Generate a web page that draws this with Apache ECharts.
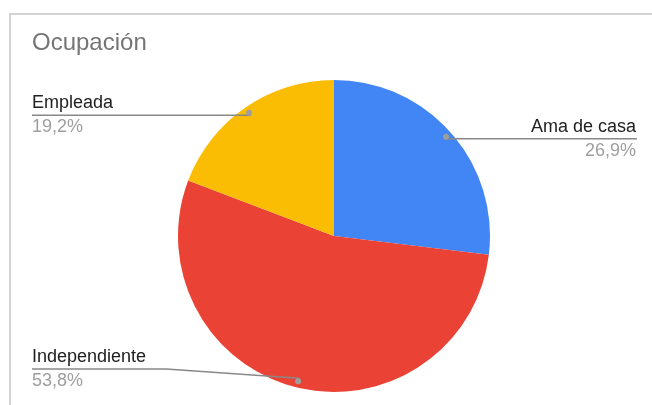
<!DOCTYPE html>
<html>
<head>
<meta charset="utf-8">
<script src="https://cdn.jsdelivr.net/npm/echarts@6/dist/echarts.min.js"></script>
<style>
  html, body { margin: 0; padding: 0; background: #fff; }
  #chart { width: 652px; height: 405px; }
</style>
</head>
<body>
<div id="chart"></div>
<script>
// Ocupación: share of respondents per occupation (%)
const categories = ['Ama de casa', 'Independiente', 'Empleada'];
const shares = [26.9, 53.8, 19.2];
const colors = ['#4285F4', '#EA4335', '#FBBC04'];

const W = 652, H = 405;
const CX = 334, CY = 236, R = 156;
const DOT_R = R * 0.94;
const FONT = '"Liberation Sans", Arial, sans-serif';

const total = shares.reduce((a, b) => a + b, 0);
const fmtPct = v => v.toFixed(1).replace('.', ',') + '%';

// anchor point of each slice's leader line, along its mid-angle
function anchorPoint(i) {
  let before = 0;
  for (let k = 0; k < i; k++) before += shares[k];
  const midDeg = 90 - (before + shares[i] / 2) / total * 360;
  const a = midDeg * Math.PI / 180;
  return [CX + DOT_R * Math.cos(a), CY - DOT_R * Math.sin(a)];
}

const sliceData = categories.map((name, i) => ({
  name,
  value: shares[i],
  itemStyle: { color: colors[i] }
}));
const overlayData = categories.map((name, i) => ({ name, value: shares[i] }));

const chart = echarts.init(document.getElementById('chart'), null, { renderer: 'canvas' });

chart.setOption({
  animation: false,
  title: {
    text: 'Ocupación',
    left: 32,
    top: 31,
    padding: 0,
    textStyle: { fontFamily: FONT, fontSize: 24, fontWeight: 'normal', color: '#757575' }
  },
  graphic: [{
    type: 'rect',
    silent: true,
    shape: { x: 10, y: 14, width: W + 40, height: H + 40 },
    style: { fill: 'none', stroke: '#d3d3d3', lineWidth: 2 }
  }],
  series: [
    {
      // the slices themselves
      type: 'pie',
      center: [CX, CY],
      radius: [0, R],
      startAngle: 90,
      silent: true,
      z: 2,
      emphasis: { disabled: true },
      data: sliceData,
      label: { show: false },
      labelLine: { show: false }
    },
    {
      // names, percentages and leader lines, drawn above the slices
      type: 'pie',
      center: [CX, CY],
      radius: [0, R],
      startAngle: 90,
      silent: true,
      z: 4,
      emphasis: { disabled: true },
      data: overlayData,
      itemStyle: { color: 'transparent', borderWidth: 0 },
      label: {
        show: true,
        position: 'outside',
        formatter: p => `{n|${p.name}}\n{p|${fmtPct(p.value)}}`,
        rich: {
          n: { fontFamily: FONT, fontSize: 18, lineHeight: 24, color: '#212121' },
          p: { fontFamily: FONT, fontSize: 18, lineHeight: 24, color: '#9e9e9e' }
        }
      },
      labelLine: {
        show: true,
        length: 5,
        length2: 5,
        smooth: false,
        lineStyle: { color: '#888888', width: 1.5 }
      },
      labelLayout: function (params) {
        const dot = anchorPoint(params.dataIndex);
        const right = dot[0] >= CX;
        const lineY = Math.min(dot[1], H - 36);
        const x = right ? W - 16 : 32;
        const w = params.labelRect.width;
        const elbowX = right ? x - w - 20 : x + w + 20;
        return {
          x: x,
          y: lineY,
          align: right ? 'right' : 'left',
          verticalAlign: 'middle',
          labelLinePoints: [dot, [elbowX, lineY], [x + (right ? 1 : 0), lineY]]
        };
      }
    },
    {
      // small markers where the leader lines start
      type: 'pie',
      center: [CX, CY],
      radius: [R * 0.88, R],
      startAngle: 90,
      silent: true,
      z: 6,
      emphasis: { disabled: true },
      data: overlayData,
      itemStyle: { color: 'transparent', borderWidth: 0 },
      label: {
        show: true,
        position: 'inside',
        formatter: '{d| }',
        rich: { d: { width: 6, height: 6, borderRadius: 3, backgroundColor: '#9e9e9e', fontSize: 4 } }
      },
      labelLine: { show: false }
    }
  ]
});
</script>
</body>
</html>
